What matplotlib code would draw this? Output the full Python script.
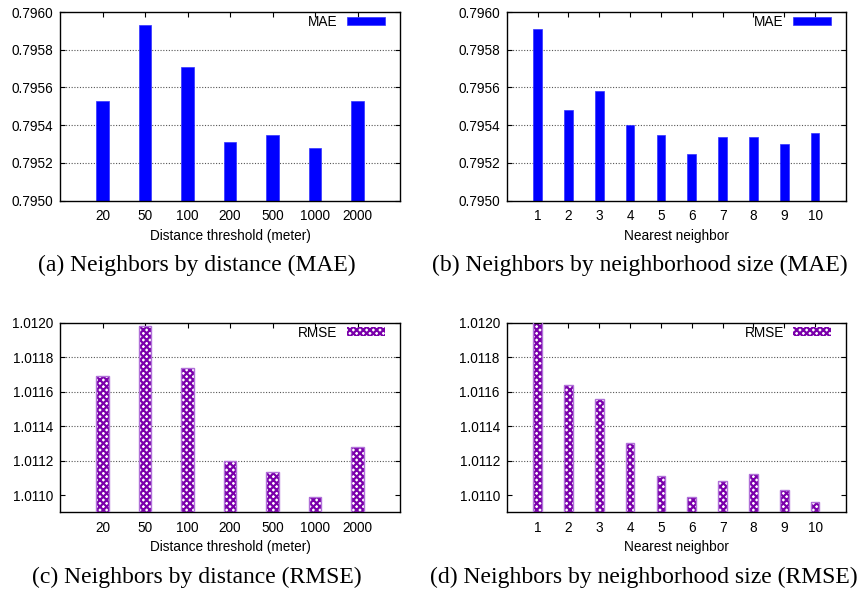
import matplotlib
matplotlib.use("Agg")
import matplotlib.pyplot as plt
import numpy as np

# ---- data ----
dist_labels = ["20", "50", "100", "200", "500", "1000", "2000"]
nn_labels = ["1", "2", "3", "4", "5", "6", "7", "8", "9", "10"]

mae_dist = [0.79553, 0.79593, 0.79571, 0.79531, 0.79535, 0.79528, 0.79553]
mae_nn = [0.79591, 0.79548, 0.79558, 0.79540, 0.79535, 0.79525, 0.79534, 0.79534, 0.79530, 0.79536]
rmse_dist = [1.01169, 1.01198, 1.01174, 1.01120, 1.011135, 1.01099, 1.01128]
rmse_nn = [1.01201, 1.01164, 1.01156, 1.01130, 1.01111, 1.01099, 1.01108, 1.01112, 1.01103, 1.01096]

mae_ylim = (0.7950, 0.7960)
rmse_ylim = (1.0109, 1.0120)
mae_ticks = [0.7950, 0.7952, 0.7954, 0.7956, 0.7958, 0.7960]
rmse_ticks = [1.0110, 1.0112, 1.0114, 1.0116, 1.0118, 1.0120]

captions = ["(a) Neighbors by distance (MAE)",
            "(b) Neighbors by neighborhood size (MAE)",
            "(c) Neighbors by distance (RMSE)",
            "(d) Neighbors by neighborhood size (RMSE)"]

plt.rcParams['font.family'] = ['Liberation Sans', 'DejaVu Sans']
plt.rcParams['hatch.linewidth'] = 1.6

W, H = 860, 591
fig = plt.figure(figsize=(W / 100, H / 100), dpi=100)


def px_axes(l, t, r, b):
    return fig.add_axes([l / W, 1 - b / H, (r - l) / W, (b - t) / H])


TICK_FS = 9.8
PURPLE = '#7a00aa'
PURPLE_EDGE = '#b070d8'


def setup(ax, labels, xlabel, ylim, yticks, xoff):
    n = len(labels)
    ax.set_xlim(xoff - 1, xoff + n)
    ax.set_ylim(*ylim)
    ax.set_xticks(np.arange(n) + xoff)
    ax.set_xticklabels(labels, fontsize=TICK_FS)
    ax.set_yticks(yticks)
    ax.set_yticklabels(["%.4f" % t for t in yticks], fontsize=TICK_FS)
    ax.set_xlabel(xlabel, fontsize=TICK_FS, labelpad=4)
    ax.tick_params(direction='in', top=True, right=True, length=3.5, width=0.8,
                   pad=6, colors='black')
    ax.tick_params(axis='y', pad=5)
    for y in yticks[1:-1]:
        ax.axhline(y, color='#555555', linestyle=(0, (1, 1.5)), linewidth=0.8, zorder=0)
    for s in ax.spines.values():
        s.set_linewidth(1.0)


def legend(ax):
    ax.legend(loc='upper right', bbox_to_anchor=(0.957, 0.985), frameon=False,
              markerfirst=False, fontsize=TICK_FS, handlelength=2.8, handleheight=0.6,
              handletextpad=0.7, borderpad=0, borderaxespad=0)


def rmse_bars(ax, x, vals, width):
    base = rmse_ylim[0]
    h = np.array(vals) - base
    ax.bar(x, h, bottom=base, width=width, color='white', edgecolor=PURPLE,
           hatch='xxxxx', linewidth=0, label='RMSE', zorder=2)
    ax.bar(x, h, bottom=base, width=width, color='none', edgecolor=PURPLE_EDGE,
           linewidth=1.0, zorder=3)


# (a)
ax = px_axes(60, 12, 400, 200.7)
x = np.arange(len(dist_labels))
ax.bar(x, mae_dist, width=0.3, color='#0000ff', edgecolor='#3333ff', linewidth=0.5,
       label='MAE', zorder=2)
setup(ax, dist_labels, "Distance threshold (meter)", mae_ylim, mae_ticks, 0)
legend(ax)

# (b)
ax = px_axes(506.7, 12, 846, 200.7)
x = np.arange(len(nn_labels)) + 1
ax.bar(x, mae_nn, width=0.28, color='#0000ff', edgecolor='#3333ff', linewidth=0.5,
       label='MAE', zorder=2)
setup(ax, nn_labels, "Nearest neighbor", mae_ylim, mae_ticks, 1)
legend(ax)

# (c)
ax = px_axes(60, 322.7, 400, 512.3)
rmse_bars(ax, np.arange(len(dist_labels)), rmse_dist, 0.3)
setup(ax, dist_labels, "Distance threshold (meter)", rmse_ylim, rmse_ticks, 0)
legend(ax)

# (d)
ax = px_axes(506.7, 322.7, 846, 512.3)
rmse_bars(ax, np.arange(len(nn_labels)) + 1, rmse_nn, 0.28)
setup(ax, nn_labels, "Nearest neighbor", rmse_ylim, rmse_ticks, 1)
legend(ax)

# captions
cap_font = ['Liberation Serif', 'DejaVu Serif']
CAP_FS = 17
fig.text(197 / W, 1 - 265 / H, captions[0], ha='center', va='center', fontsize=CAP_FS, family=cap_font)
fig.text(639.5 / W, 1 - 265 / H, captions[1], ha='center', va='center', fontsize=CAP_FS, family=cap_font)
fig.text(197 / W, 1 - 577 / H, captions[2], ha='center', va='center', fontsize=CAP_FS, family=cap_font)
fig.text(643.5 / W, 1 - 577 / H, captions[3], ha='center', va='center', fontsize=CAP_FS, family=cap_font)

fig.savefig("out.png", dpi=100)
